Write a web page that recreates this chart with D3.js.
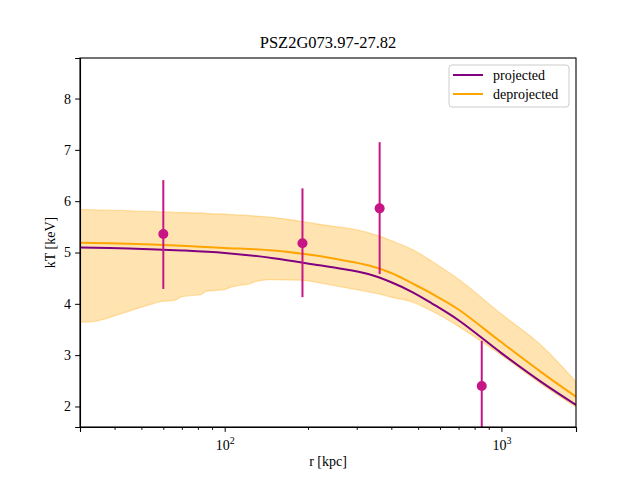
<!DOCTYPE html>
<html>
<head>
<meta charset="utf-8">
<script src="https://cdn.jsdelivr.net/npm/d3@7"></script>
<style>
  body { margin: 0; background: #fff; }
</style>
</head>
<body>
<svg id="chart" width="640" height="480"></svg>
<script>
"use strict";

const serif = "'Liberation Serif', 'DejaVu Serif', 'Times New Roman', Times, serif";

// Model radii (kpc) for the two temperature profiles
const modelR = [30, 45, 70, 100, 150, 220, 260, 330, 400, 480, 560, 700, 1000, 1400, 1860];
const projectedT = [5.10, 5.08, 5.04, 4.99, 4.89, 4.75, 4.69, 4.58, 4.42, 4.22, 4.01, 3.68, 3.04, 2.47, 2.03];
const deprojectedT = [5.19, 5.17, 5.13, 5.09, 5.04, 4.93, 4.86, 4.75, 4.60, 4.39, 4.20, 3.89, 3.25, 2.66, 2.19];

// Uncertainty band on the deprojected profile
const bandR = [30, 34, 43, 51, 55, 58, 63, 66, 70, 79, 82, 86, 98, 106, 113, 123, 130, 145, 187, 246, 283, 363, 400, 480, 560, 700, 1000, 1400, 1860];
const bandLow = [3.64, 3.66, 3.82, 3.95, 4.00, 4.04, 4.06, 4.07, 4.14, 4.17, 4.18, 4.25, 4.27, 4.33, 4.36, 4.39, 4.44, 4.47, 4.46, 4.36, 4.30, 4.19, 4.13, 4.03, 3.86, 3.56, 3.00, 2.43, 1.99];
const bandHigh = [5.84, 5.83, 5.82, 5.80, 5.80, 5.79, 5.79, 5.78, 5.78, 5.77, 5.77, 5.76, 5.75, 5.74, 5.73, 5.72, 5.71, 5.69, 5.61, 5.51, 5.47, 5.32, 5.23, 5.05, 4.83, 4.48, 3.80, 3.18, 2.48];

// Measured spectral temperatures
const obsR = [60, 191, 363, 849];
const obsT = [5.36, 5.18, 5.86, 2.40];
const obsLow = [4.29, 4.13, 4.58, 1.52];
const obsHigh = [6.41, 6.25, 7.15, 3.28];

const yTicks = [2, 3, 4, 5, 6, 7, 8];
const xMajor = [100, 1000];
const xMinor = [30, 40, 50, 60, 70, 80, 90, 200, 300, 400, 500, 600, 700, 800, 900];

const margin = {top: 58, right: 64, bottom: 53, left: 80},
    width = 640 - margin.left - margin.right,
    height = 480 - margin.top - margin.bottom;

const svg = d3.select("#chart");
const plot = svg.append("g")
    .attr("transform", "translate(" + margin.left + "," + margin.top + ")");

const x = d3.scaleLog().domain([30, 1860]).range([0, width]);
const y = d3.scaleLinear().domain([1.6, 8.79]).range([height, 0]);

plot.append("clipPath").attr("id", "clip")
    .append("rect").attr("width", width).attr("height", height);

const inner = plot.append("g").attr("clip-path", "url(#clip)");

// band
const band = d3.area()
    .x((d, i) => x(bandR[i]))
    .y0((d, i) => y(bandLow[i]))
    .y1((d, i) => y(bandHigh[i]))
    .curve(d3.curveMonotoneX);
inner.append("path")
    .datum(bandR)
    .attr("d", band)
    .attr("fill", "orange")
    .attr("fill-opacity", 0.3)
    .attr("stroke", "orange")
    .attr("stroke-opacity", 0.3)
    .attr("stroke-width", 1.3);

const line = (vals) => d3.line()
    .x((d, i) => x(modelR[i]))
    .y((d, i) => y(vals[i]))
    .curve(d3.curveCatmullRom)(modelR);

inner.append("path").attr("d", line(projectedT))
    .attr("fill", "none").attr("stroke", "purple").attr("stroke-width", 2);
inner.append("path").attr("d", line(deprojectedT))
    .attr("fill", "none").attr("stroke", "orange").attr("stroke-width", 2);

// error bars and points
inner.selectAll("line.err")
    .data(obsR)
    .join("line")
    .attr("class", "err")
    .attr("x1", (d) => x(d)).attr("x2", (d) => x(d))
    .attr("y1", (d, i) => y(obsLow[i]))
    .attr("y2", (d, i) => y(obsHigh[i]))
    .attr("stroke", "mediumvioletred")
    .attr("stroke-width", 2);
inner.selectAll("circle.pt")
    .data(obsR)
    .join("circle")
    .attr("class", "pt")
    .attr("cx", (d) => x(d))
    .attr("cy", (d, i) => y(obsT[i]))
    .attr("r", 5)
    .attr("fill", "mediumvioletred");

// axes
const yAxis = plot.append("g")
    .call(d3.axisLeft(y).tickValues(yTicks).tickSize(4.9).tickPadding(4).tickFormat(d3.format("d")));

const xAxis = plot.append("g")
    .attr("transform", "translate(0," + height + ")")
    .call(d3.axisBottom(x).tickValues(xMajor).tickSize(4.9).tickPadding(3).tickFormat(() => ""));
plot.append("g")
    .attr("transform", "translate(0," + height + ")")
    .call(d3.axisBottom(x).tickValues(xMinor).tickSize(2.8).tickFormat(() => ""))
    .select(".domain").remove();

xAxis.selectAll(".tick").each(function (d) {
    const t = d3.select(this).append("text")
        .attr("y", 23)
        .attr("fill", "#000")
        .attr("text-anchor", "middle");
    t.append("tspan").text("10");
    t.append("tspan").attr("dy", -6).style("font-size", "10px").text(Math.round(Math.log10(d)));
});

plot.selectAll(".domain").attr("stroke-width", 1.1);
plot.selectAll(".tick line").attr("stroke-width", 1);

// frame on top/right
plot.append("rect")
    .attr("width", width).attr("height", height)
    .attr("fill", "none").attr("stroke", "#000").attr("stroke-width", 1.1);

// labels
svg.append("text")
    .attr("x", margin.left + width / 2).attr("y", 48)
    .attr("text-anchor", "middle")
    .style("font-size", "16.5px")
    .text("PSZ2G073.97-27.82");
svg.append("text")
    .attr("x", margin.left + width / 2).attr("y", 466)
    .attr("text-anchor", "middle")
    .text("r [kpc]");
svg.append("text")
    .attr("transform", "translate(55," + (margin.top + height / 2) + ") rotate(-90)")
    .attr("text-anchor", "middle")
    .text("kT [keV]");

// legend
const legend = svg.append("g").attr("transform", "translate(449,65)");
legend.append("rect")
    .attr("width", 120).attr("height", 42).attr("rx", 3)
    .attr("fill", "#fff").attr("fill-opacity", 0.8)
    .attr("stroke", "#ccc");
const legendItems = [["projected", "purple"], ["deprojected", "orange"]];
legendItems.forEach(([name, color], i) => {
    const g = legend.append("g").attr("transform", "translate(0," + (10 + i * 19) + ")");
    g.append("line").attr("x1", 4).attr("x2", 34)
        .attr("stroke", color).attr("stroke-width", 2);
    g.append("text").attr("x", 44).attr("y", 4.5).text(name);
});

// every text in the serif face
svg.selectAll("text")
    .attr("font-family", null)
    .style("font-family", serif)
    .style("fill", "#000");
svg.selectAll("g").attr("font-family", null);
svg.selectAll("text").filter(function () { return !this.style.fontSize; })
    .style("font-size", "14px");
</script>
</body>
</html>
